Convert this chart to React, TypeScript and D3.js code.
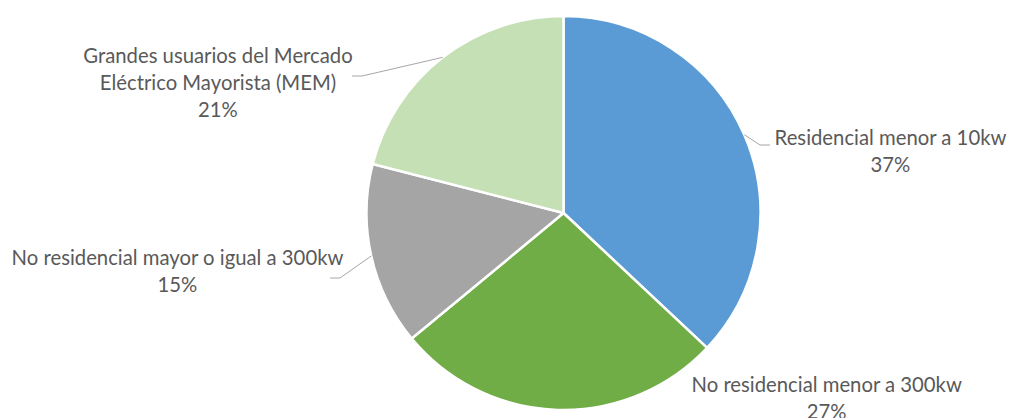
import React from "react";
import * as d3 from "d3";

const categories = [
  "Residencial menor a 10kw",
  "No residencial menor a 300kw",
  "No residencial mayor o igual a 300kw",
  "Grandes usuarios del Mercado Eléctrico Mayorista (MEM)",
];
const values = [37, 27, 15, 21];
const labelLines = [
  ["Residencial menor a 10kw"],
  ["No residencial menor a 300kw"],
  ["No residencial mayor o igual a 300kw"],
  ["Grandes usuarios del Mercado", "Eléctrico Mayorista (MEM)"],
];
const colors = ["#5B9BD5", "#70AD47", "#A5A5A5", "#C5E0B4"];

// layout
const W = 1011;
const H = 418;
const cx = 563.5;
const cy = 213;
const R = 197;
const lineH = 27;
const labelPos = [
  { x: 890.5, y: 145, elbow: [760, 145], end: [770, 145] },
  { x: 826.7, y: 391.7, elbow: null, end: null },
  { x: 177.5, y: 265, elbow: [340, 278], end: [330, 278] },
  { x: 218, y: 63, elbow: [362, 76], end: [352, 76] },
];

export default function App() {
  const total = d3.sum(values);
  const pie = d3.pie<number>().sort(null).value((d) => d);
  const arcs = pie(values);
  const arc = d3.arc<d3.PieArcDatum<number>>().innerRadius(0).outerRadius(R);

  return (
    <div style={{ position: "absolute", left: 0, top: 0 }}>
      <svg width={W} height={H} style={{ display: "block", background: "#fff" }}>
        <g transform={`translate(${cx},${cy})`}>
          {arcs.map((a, i) => (
            <path
              key={i}
              d={arc(a) || ""}
              fill={colors[i]}
              stroke="#fff"
              strokeWidth={2.5}
              strokeLinejoin="round"
            />
          ))}
        </g>
        {arcs.map((a, i) => {
          const lp = labelPos[i];
          if (!lp.elbow || !lp.end) return null;
          const mid = (a.startAngle + a.endAngle) / 2;
          const sx = cx + R * Math.sin(mid);
          const sy = cy - R * Math.cos(mid);
          return (
            <polyline
              key={"l" + i}
              points={`${sx},${sy} ${lp.elbow[0]},${lp.elbow[1]} ${lp.end[0]},${lp.end[1]}`}
              fill="none"
              stroke="#A6A6A6"
              strokeWidth={1}
            />
          );
        })}
        {arcs.map((a, i) => {
          const lp = labelPos[i];
          const pct = Math.round((values[i] / total) * 100) + "%";
          const lines = [...labelLines[i], pct];
          return (
            <text
              key={"t" + i}
              textAnchor="middle"
              fontFamily="Lato, 'Open Sans', sans-serif"
              fontSize={20.3}
              fill="#595959"
            >
              {lines.map((ln, j) => (
                <tspan key={j} x={lp.x} y={lp.y + j * lineH}>
                  {ln}
                </tspan>
              ))}
            </text>
          );
        })}
      </svg>
    </div>
  );
}
